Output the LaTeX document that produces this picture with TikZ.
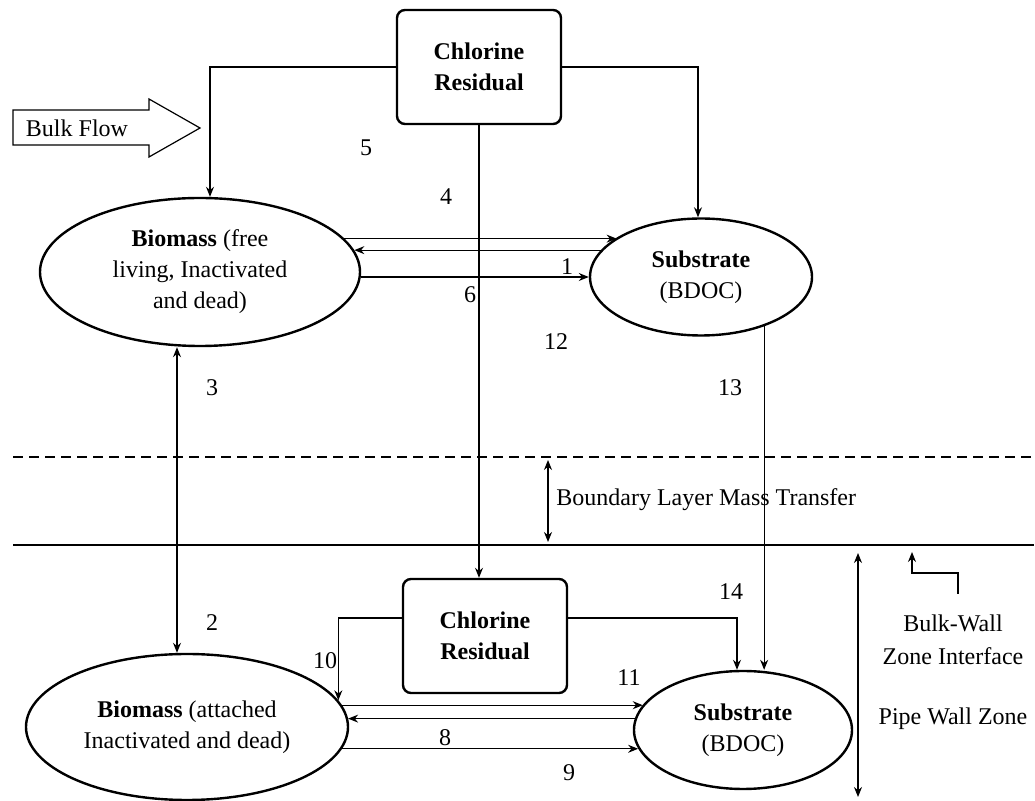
\documentclass[tikz,border=0pt]{standalone}
\usepackage{fontspec}
\setmainfont{Liberation Serif}
\usetikzlibrary{shapes.geometric,arrows.meta}
\def\tip{Stealth[length=5pt,width=4pt]}

\begin{document}
\begin{tikzpicture}[x=0.5pt,y=-0.5pt,
  every node/.style={font=\fontsize{12}{15.5}\selectfont},
  box/.style={draw,line width=1.2pt,rounded corners=4pt,minimum width=82pt,
    minimum height=57pt,align=center,inner sep=0pt},
  pool/.style={draw,line width=1.2pt,ellipse,align=center,inner sep=0pt},
  flow/.style={line width=0.6pt,-{\tip}},
  both/.style={line width=0.6pt,{\tip}-{\tip}},
  zone/.style={line width=0.6pt}]
\useasboundingbox (0,0) rectangle (1035,801);

% bulk water
\node[box] (cltop) at (479,67) {\textbf{Chlorine}\\\textbf{Residual}};
\node[pool,minimum width=160pt,minimum height=74pt] (bmtop) at (200,272)
  {\textbf{Biomass} (free\\living, Inactivated\\and dead)};
\node[pool,minimum width=111pt,minimum height=58.5pt] (sbtop) at (701,277)
  {\textbf{Substrate}\\(BDOC)};

% pipe wall
\node[box] (clbot) at (485,636) {\textbf{Chlorine}\\\textbf{Residual}};
\node[pool,minimum width=161pt,minimum height=73pt] (bmbot) at (187,727)
  {\textbf{Biomass} (attached\\Inactivated and dead)};
\node[pool,minimum width=109pt,minimum height=59pt] (sbbot) at (743,730)
  {\textbf{Substrate}\\(BDOC)};

% bulk flow arrow
\draw[zone] (13,110) -- (149,110) -- (149,99) -- (200,128) -- (149,157)
  -- (149,145) -- (13,145) -- cycle;
\node (bulk) at (77,128) {Bulk Flow};

% zone lines
\coordinate (dl) at (13,457);
\coordinate (wl) at (13,545);
\draw[zone,dash pattern=on 5pt off 3pt] (dl) -- (1035,457);
\draw[zone] (wl) -- (1034,545);

% reactions, bulk
\draw[flow] (cltop.west) -| ([xshift=5pt]bmtop.north);
\draw[flow] (cltop.east) -| ([xshift=-1.5pt]sbtop.north);
\draw[flow] (cltop.south) -- (cltop.south |- clbot.north);
\draw[flow] (bmtop.13.5) -- (bmtop.13.5 -| sbtop.155);
\draw[flow] (sbtop.165) -- (sbtop.165 -| bmtop.8);
\draw[flow] (sbtop.west -| bmtop.east) -- (sbtop.west);
\draw[both] ([xshift=-11.5pt]bmtop.south) -- ([xshift=-11.5pt]bmtop.south |- bmbot.north);
\draw[flow] (sbtop.-38) -- (sbtop.-38 |- sbbot.north);

% reactions, wall
\draw[flow] ([yshift=9pt]clbot.west) -| (bmbot.10);
\draw[flow] ([yshift=9pt]clbot.east) -| ([xshift=-3pt]sbbot.north);
\draw[flow] (bmbot.8) -- (bmbot.8 -| sbbot.166);
\draw[flow] (sbbot.174) -- (sbbot.174 -| bmbot.3);
\draw[flow] (bmbot.-8) -- (bmbot.-8 -| sbbot.190);

% numbers
\foreach \t/\x/\y in {1/567/267, 2/212/623, 3/212/388, 4/446/197, 5/366/148,
  6/470/295, 8/445/738, 9/569/773, 10/325/661, 11/629/678, 12/556/342,
  13/730/388, 14/731/592}
  \node (n\t) at (\x,\y) {\t};

% zone labels
\coordinate (blt) at (548,457);
\draw[both,shorten <=1.5pt,shorten >=1.5pt] (blt) -- (blt |- wl);
\node[anchor=west,inner sep=0pt] (blmt) at (556,500) {Boundary Layer Mass Transfer};
\node[align=center,font=\fontsize{12}{16.5}\selectfont] (bwzi) at (953,640)
  {Bulk-Wall\\Zone Interface};
\node (pwz) at (953,719) {Pipe Wall Zone};
\draw[both] (858,553) -- (858,797);
\draw[flow] ([xshift=2.5pt,yshift=7pt]bwzi.north) |- ++(-46,-21) -- ++(0,-21);
\end{tikzpicture}
\end{document}
